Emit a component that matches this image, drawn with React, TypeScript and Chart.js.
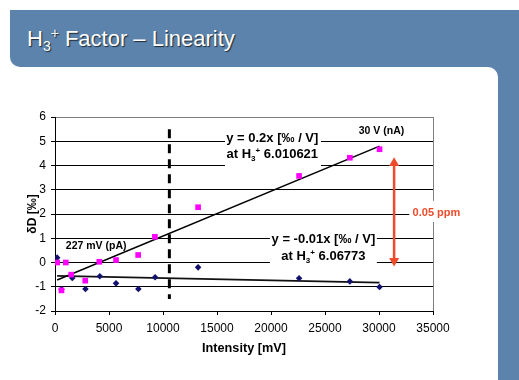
import React, { useEffect, useRef } from "react";
import { Chart, registerables } from "chart.js";

Chart.register(...registerables);

// ---------- data ----------
const pinkX = [200, 600, 1000, 1500, 2800, 4100, 5650, 7700, 9250, 13250, 22600, 27300, 30050];
const pinkY = [0.0, -1.15, 0.0, -0.5, -0.75, 0.03, 0.1, 0.31, 1.06, 2.28, 3.57, 4.32, 4.67];
const navyX = [200, 600, 1600, 2820, 4150, 5650, 7720, 9270, 13250, 22600, 27300, 30050];
const navyY = [0.2, -1.1, -0.64, -1.09, -0.57, -0.86, -1.09, -0.61, -0.2, -0.65, -0.78, -1.01];

const pinkTrendX = [200, 30050];
const pinkTrendY = [-0.72, 4.8];
const navyTrendX = [200, 30050];
const navyTrendY = [-0.55, -0.83];

const dashedX = [10590, 10590];
const dashedY = [5.5, -1.5];

const arrowX = [31400, 31400];
const arrowY = [4.1, 0.07];

const xTicksMin = 0;
const xTicksMax = 35000;
const xStep = 5000;
const yMin = -2;
const yMax = 6;
const yStep = 1;

const xTitle = "Intensity [mV]";
const yTitle = "δD [‰]";

type Seg = { t: string; k?: "sub" | "sup" };
const labels: { segs: Seg[]; x: number; y: number; size: number; color: string }[] = [
  { segs: [{ t: "y = 0.2x [‰ / V]" }], x: 20120, y: 5.16, size: 13, color: "#000" },
  { segs: [{ t: "at H" }, { t: "3", k: "sub" }, { t: "+", k: "sup" }, { t: " 6.010621" }], x: 20120, y: 4.5, size: 13, color: "#000" },
  { segs: [{ t: "30 V (nA)" }], x: 30230, y: 5.44, size: 10.5, color: "#000" },
  { segs: [{ t: "y = -0.01x [‰ / V]" }], x: 24850, y: 1.0, size: 13, color: "#000" },
  { segs: [{ t: "at H" }, { t: "3", k: "sub" }, { t: "+", k: "sup" }, { t: " 6.06773" }], x: 24850, y: 0.31, size: 13, color: "#000" },
  { segs: [{ t: "227 mV (pA)" }], x: 3810, y: 0.72, size: 10.5, color: "#000" },
  { segs: [{ t: "0.05 ppm" }], x: 35320, y: 2.08, size: 11, color: "#EE4B2B" },
];

// white boxes behind labels (data coords)
const boxes = [
  { x0: 15740, x1: 24630, y0: 5.84, y1: 3.9 },
  { x0: 19900, x1: 29800, y0: 1.46, y1: -0.25 },
  { x0: 32800, x1: 37700, y0: 2.54, y1: 1.67 },
];

const BLUE = "#5C83AC";
const RED = "#EE4B2B";
const FONT = '"Liberation Sans", Arial, sans-serif';

const annotationPlugin = {
  id: "annot",
  beforeDatasetsDraw(chart: any) {
    const { ctx, scales } = chart;
    const sx = scales.x;
    const sy = scales.y;
    ctx.save();
    ctx.fillStyle = "#fff";
    for (const b of boxes) {
      const px0 = sx.getPixelForValue(b.x0);
      const px1 = sx.getPixelForValue(b.x1);
      const py0 = sy.getPixelForValue(b.y0);
      const py1 = sy.getPixelForValue(b.y1);
      ctx.fillRect(px0, py0, px1 - px0, py1 - py0);
    }
    ctx.restore();
  },
  afterDraw(chart: any) {
    const { ctx, scales } = chart;
    const sx = scales.x;
    const sy = scales.y;
    ctx.save();
    ctx.textBaseline = "alphabetic";
    ctx.textAlign = "left";
    for (const l of labels) {
      const cx = sx.getPixelForValue(l.x);
      const cy = sy.getPixelForValue(l.y);
      const fontFor = (k?: string) => `bold ${k ? l.size * 0.62 : l.size}px ${FONT}`;
      let total = 0;
      const widths: number[] = [];
      for (const s of l.segs) {
        ctx.font = fontFor(s.k);
        const w = ctx.measureText(s.t).width;
        widths.push(w);
        total += w;
      }
      let x = cx - total / 2;
      const base = cy + l.size * 0.36;
      ctx.fillStyle = l.color;
      l.segs.forEach((s, i) => {
        ctx.font = fontFor(s.k);
        let yy = base;
        if (s.k === "sub") yy = base + l.size * 0.22;
        if (s.k === "sup") yy = base - l.size * 0.38;
        ctx.fillText(s.t, x, yy);
        x += widths[i];
      });
    }
    ctx.restore();
  },
};

export default function App() {
  const ref = useRef<HTMLCanvasElement | null>(null);

  useEffect(() => {
    if (!ref.current) return;
    Chart.defaults.font.family = FONT;
    const pts = (xs: number[], ys: number[]) => xs.map((x, i) => ({ x, y: ys[i] }));
    const chart = new Chart(ref.current, {
      type: "scatter",
      data: {
        datasets: [
          {
            data: pts(pinkX, pinkY),
            pointStyle: "rect",
            pointRadius: 4,
            pointBackgroundColor: "#FF00FF",
            pointBorderWidth: 0,
            borderWidth: 0,
          },
          {
            data: pts(navyX, navyY),
            pointStyle: "rectRot",
            pointRadius: 3.3,
            pointBackgroundColor: "#12126E",
            pointBorderWidth: 0,
            borderWidth: 0,
          },
          {
            data: pts(pinkTrendX, pinkTrendY),
            showLine: true,
            borderColor: "#000",
            borderWidth: 1.5,
            pointRadius: 0,
          },
          {
            data: pts(navyTrendX, navyTrendY),
            showLine: true,
            borderColor: "#111",
            borderWidth: 1.8,
            pointRadius: 0,
          },
          {
            data: pts(dashedX, dashedY),
            showLine: true,
            borderColor: "#000",
            borderWidth: 3,
            borderDash: [9, 6],
            pointRadius: 0,
          },
          {
            data: pts(arrowX, arrowY),
            showLine: true,
            borderColor: RED,
            borderWidth: 2.5,
            pointStyle: "triangle",
            pointRadius: 5.8,
            pointRotation: [0, 180],
            pointBackgroundColor: RED,
            pointBorderColor: RED,
            pointBorderWidth: 0,
          },
        ],
      } as any,
      options: {
        responsive: false,
        animation: false,
        devicePixelRatio: 1,
        layout: { padding: { left: 0, top: 117, right: 86, bottom: 0 } },
        plugins: { legend: { display: false }, tooltip: { enabled: false } },
        events: [],
        scales: {
          x: {
            type: "linear",
            min: xTicksMin,
            max: xTicksMax,
            afterFit: (s: any) => {
              s.height = 69;
            },
            ticks: {
              stepSize: xStep,
              color: "#000",
              font: { size: 12 },
              padding: 6,
              maxRotation: 0,
              autoSkip: false,
              callback: (v: any) => String(v),
            },
            grid: {
              color: (c: any) => (c.tick && c.tick.value === xTicksMax ? "#808080" : "rgba(0,0,0,0)"),
              tickColor: "#000",
              tickLength: 4,
              drawTicks: true,
            },
            border: { color: "#000", width: 1 },
            title: {
              display: true,
              text: xTitle,
              color: "#000",
              font: { size: 12.7, weight: "bold" },
              padding: { top: 0, bottom: 24 },
            },
          },
          y: {
            type: "linear",
            min: yMin,
            max: yMax,
            afterFit: (s: any) => {
              s.width = 55;
            },
            ticks: {
              stepSize: yStep,
              color: "#000",
              font: { size: 12 },
              padding: 5,
              callback: (v: any) => String(v),
            },
            grid: {
              color: (c: any) => (c.tick && c.tick.value === yMax ? "#808080" : "#000"),
              tickColor: "#000",
              tickLength: 4,
            },
            border: { color: "#000", width: 1 },
            title: {
              display: true,
              text: yTitle,
              color: "#000",
              font: { size: 12, weight: "bold" },
              padding: { top: 25, bottom: 0 },
            },
          },
        },
      } as any,
      plugins: [annotationPlugin as any],
    });
    return () => chart.destroy();
  }, []);

  return (
    <div
      style={{
        position: "absolute",
        left: 0,
        top: 0,
        width: 519,
        height: 380,
        background: "#fff",
        overflow: "hidden",
      }}
    >
      <div
        style={{
          position: "absolute",
          left: 10,
          top: 10,
          width: 509,
          height: 57,
          background: BLUE,
          borderBottomLeftRadius: 10,
        }}
      />
      <div style={{ position: "absolute", left: 488, top: 10, width: 31, height: 370, background: BLUE }} />
      <div
        style={{
          position: "absolute",
          left: 0,
          top: 67,
          width: 498,
          height: 313,
          background: "#fff",
          borderTopRightRadius: 10,
        }}
      />
      <div
        style={{
          position: "absolute",
          left: 27,
          top: 28,
          fontFamily: FONT,
          fontSize: 22,
          lineHeight: "22px",
          color: "#fff",
          whiteSpace: "nowrap",
          textShadow: "1px 1px 1px rgba(0,0,0,0.7)",
        }}
      >
        H
        <span style={{ fontSize: 14, position: "relative", top: 5 }}>3</span>
        <span style={{ fontSize: 14, position: "relative", top: -8 }}>+</span>
        <span style={{ marginLeft: 6 }}>Factor – Linearity</span>
      </div>
      <canvas ref={ref} width={519} height={380} style={{ position: "absolute", left: 0, top: 0 }} />
    </div>
  );
}
